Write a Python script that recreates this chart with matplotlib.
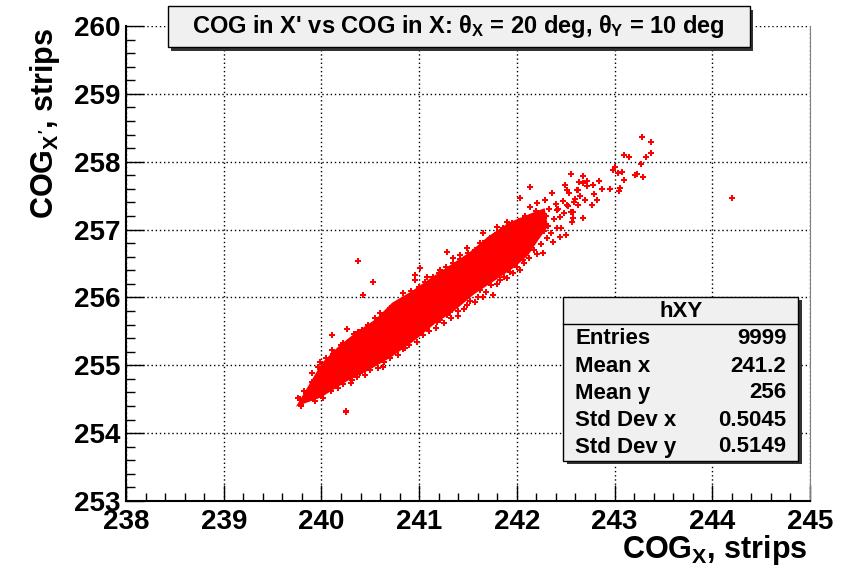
import matplotlib
matplotlib.use("Agg")
import matplotlib.pyplot as plt
from matplotlib.patches import Rectangle
from matplotlib.ticker import MultipleLocator

plt.rcParams['font.family'] = ['Liberation Sans', 'DejaVu Sans']
plt.rcParams['font.weight'] = 'bold'
plt.rcParams['mathtext.fontset'] = 'custom'
plt.rcParams['mathtext.rm'] = 'Liberation Sans:bold'
plt.rcParams['mathtext.it'] = 'Liberation Sans:bold'
plt.rcParams['mathtext.bf'] = 'Liberation Sans:bold'

# dense core outline (lower edge left->right, then upper edge right->left)
core_x = [239.78, 239.985, 240.259, 240.463, 240.702, 240.940, 241.145, 241.350,
          241.554, 241.759, 241.964, 242.101, 242.203, 242.30,
          242.271, 242.135, 241.930, 241.725, 241.521, 241.316, 241.111,
          240.940, 240.736, 240.566, 240.361, 240.190, 240.019]
core_y = [254.44, 254.547, 254.792, 254.939, 255.137, 255.381, 255.627, 255.823,
          256.069, 256.265, 256.463, 256.634, 256.855, 257.05,
          257.280, 257.206, 257.082, 256.886, 256.640, 256.444, 256.248,
          256.076, 255.903, 255.659, 255.461, 255.265, 255.019]

# individual entries visible outside / on the edge of the dense core
pts_x = [240.378, 240.525, 240.429, 240.105, 240.259, 239.985, 240.248, 239.788,
         239.764, 239.822, 239.900, 239.952, 240.088, 240.310, 240.855, 240.958,
         240.958, 241.009, 241.282, 241.418, 241.657, 241.759, 241.896, 242.066,
         242.203, 242.271, 242.135, 242.357, 242.493, 242.613, 242.510, 242.408,
         242.306, 242.373, 241.401, 241.180, 241.316, 241.487, 241.623, 241.828,
         242.032, 242.203, 242.288, 242.442, 242.562, 242.578,
         243.281, 243.376, 243.376, 243.319, 243.151, 243.094, 243.271, 243.008,
         242.987, 243.032, 243.079, 243.097, 243.052, 243.042, 242.957, 242.875,
         242.551, 242.677, 242.674, 242.640, 242.715, 242.715, 242.783, 242.844,
         242.817, 242.786, 242.766, 242.701, 242.646, 242.595, 242.629, 242.490,
         242.510, 242.537, 242.629, 242.551, 242.578, 242.677, 242.500, 242.408,
         242.373, 242.442, 243.209, 243.233, 243.294, 244.202,
         239.791, 239.776, 239.834, 239.824, 239.909, 239.970, 240.252,
         240.395, 240.566, 240.633, 240.753, 240.873, 241.077, 241.214, 241.282,
         241.572, 241.657, 241.964, 242.032,
         240.105, 240.224, 240.378, 240.600, 240.702, 240.838, 241.077, 241.214,
         241.350, 241.487, 241.623, 241.794, 241.896, 242.135,
         # lower edge
         239.85, 239.93, 240.02, 240.10, 240.17, 240.22, 240.30, 240.36, 240.45,
         240.50, 240.58, 240.64, 240.70, 240.78, 240.83, 240.90, 240.98, 241.04,
         241.10, 241.17, 241.25, 241.33, 241.40, 241.46, 241.52, 241.60, 241.68,
         241.74, 241.80, 241.87, 241.93, 242.00, 242.07, 242.12, 242.18, 242.25,
         # upper edge
         239.90, 239.96, 240.05, 240.12, 240.20, 240.27, 240.33, 240.42, 240.48,
         240.55, 240.63, 240.70, 240.78, 240.86, 240.92, 241.00, 241.06, 241.14,
         241.20, 241.27, 241.35, 241.42, 241.50, 241.57, 241.65, 241.72, 241.80,
         241.86, 241.95, 242.02, 242.08, 242.20, 242.33, 242.40, 242.47,
         # upper-right tail
         242.25, 242.32, 242.38, 242.45, 242.48, 242.35, 242.28, 242.42, 242.52,
         242.58, 242.30, 242.22]
pts_y = [256.537, 256.232, 256.036, 255.446, 255.530, 255.053, 254.326, 254.400,
         254.513, 254.625, 254.758, 254.684, 254.684, 254.783, 255.250, 256.330,
         256.257, 256.429, 256.674, 256.625, 256.945, 256.036, 256.282, 256.551,
         256.640, 256.650, 257.623, 257.535, 257.657, 257.583, 257.362, 257.288,
         256.871, 256.821, 255.726, 255.642, 255.790, 255.888, 256.109, 256.257,
         257.461, 257.387, 257.436, 257.190, 257.116, 257.263,
         258.360, 258.290, 258.124, 258.074, 258.074, 258.103, 257.971, 257.927,
         257.878, 257.829, 257.848, 257.730, 257.612, 257.573, 257.602, 257.602,
         257.819, 257.794, 257.691, 257.701, 257.720, 257.642, 257.652, 257.711,
         257.436, 257.524, 257.362, 257.436, 257.495, 257.446, 257.583, 257.657,
         257.583, 257.534, 257.362, 257.263, 257.166, 257.166, 256.920, 257.018,
         256.821, 256.895, 257.800, 257.819, 257.779, 257.470,
         254.410, 254.508, 254.514, 254.625, 254.547, 254.758, 254.316,
         254.882, 255.078, 254.979, 255.250, 255.373, 255.545, 255.667, 255.741,
         255.937, 256.011, 256.355, 256.404,
         255.225, 255.324, 255.495, 255.766, 255.815, 256.061, 256.305, 256.404,
         256.576, 256.724, 256.797, 257.042, 257.116, 257.337,
         254.50, 254.47, 254.52, 254.62, 254.66, 254.72, 254.74, 254.83, 254.86,
         254.93, 254.96, 255.05, 255.10, 255.15, 255.24, 255.30, 255.34, 255.45,
         255.50, 255.55, 255.63, 255.70, 255.80, 255.83, 255.95, 256.00, 256.08,
         256.18, 256.20, 256.30, 256.38, 256.45, 256.50, 256.58, 256.70, 256.78,
         254.88, 254.98, 255.10, 255.16, 255.30, 255.35, 255.46, 255.52, 255.60,
         255.70, 255.74, 255.84, 255.92, 255.98, 256.10, 256.15, 256.22, 256.30,
         256.36, 256.45, 256.50, 256.57, 256.66, 256.70, 256.80, 256.88, 256.95,
         257.02, 257.10, 257.12, 257.20, 257.28, 257.30, 257.38, 257.42,
         257.10, 257.05, 257.15, 257.02, 257.25, 256.95, 256.98, 257.30, 257.35,
         257.40, 257.20, 257.15]

stat_names = ["Entries", "Mean x", "Mean y", "Std Dev x", "Std Dev y"]
stat_values = ["9999", "241.2", "256", "0.5045", "0.5149"]

fig = plt.figure(figsize=(8.52, 5.74), dpi=100)
ax = fig.add_axes([0.1479, 0.1272, 0.8028, 0.8275])

ax.fill(core_x, core_y, color='#ff0000', lw=2.5, ec='#ff0000', zorder=3)
ax.plot(pts_x, pts_y, ls='none', marker='P', ms=4, mew=0, color='#ff0000', zorder=3)

ax.set_xlim(238, 245)
ax.set_ylim(253, 260)
ax.xaxis.set_major_locator(MultipleLocator(1))
ax.xaxis.set_minor_locator(MultipleLocator(0.2))
ax.yaxis.set_major_locator(MultipleLocator(1))
ax.yaxis.set_minor_locator(MultipleLocator(0.2))
ax.tick_params(axis='x', which='major', direction='in', length=11.5, width=1, pad=6,
               labelsize=20, top=False)
ax.tick_params(axis='x', which='minor', direction='in', length=5.8, width=1, top=False)
ax.tick_params(axis='y', which='major', direction='in', length=13, width=1, pad=4,
               labelsize=20, right=False)
ax.tick_params(axis='y', which='minor', direction='in', length=6.5, width=1, right=False)
for lab in ax.get_xticklabels() + ax.get_yticklabels():
    lab.set_fontweight('bold')
ax.grid(True, which='major', ls=(0, (1, 2)), color='black', lw=1)
ax.spines['top'].set_visible(False)
ax.spines['right'].set_color('#808080')
ax.spines['left'].set_linewidth(1.5)
ax.spines['bottom'].set_linewidth(1.5)

fig.text(0.948, 0.042, r"COG$_{X}$, strips", ha='right', va='center', fontsize=22,
         fontweight='bold')
fig.text(0.053, 0.952, r"COG$_{X'}$, strips", ha='center', va='top', rotation=90,
         fontsize=22, fontweight='bold')


def root_box(x0, y0, x1, y1):
    shadow = Rectangle((x0 + 0.004, y0 - 0.006), x1 - x0, y1 - y0, transform=fig.transFigure,
                       fc='#333333', ec='none', zorder=5)
    box = Rectangle((x0, y0), x1 - x0, y1 - y0, transform=fig.transFigure,
                    fc='#f0f0f0', ec='black', lw=1, zorder=6)
    fig.patches.extend([shadow, box])


# title box
root_box(0.197, 0.918, 0.880, 0.989)
fig.text(0.5385, 0.953, r"COG in X' vs COG in X: $\theta_{X}$ = 20 deg, $\theta_{Y}$ = 10 deg",
         ha='center', va='center', fontsize=17, fontweight='bold', zorder=7)

# stats box
root_box(0.661, 0.197, 0.937, 0.483)
fig.add_artist(plt.Line2D([0.661, 0.937], [0.4355, 0.4355], transform=fig.transFigure,
                          color='black', lw=1, zorder=7))
fig.text(0.799, 0.457, "hXY", ha='center', va='center', fontsize=16, fontweight='bold', zorder=7)
for i, (name, val) in enumerate(zip(stat_names, stat_values)):
    yy = 1 - (339 + 27 * i) / 574
    fig.text(0.675, yy, name, ha='left', va='center', fontsize=16, fontweight='bold', zorder=7)
    fig.text(0.923, yy, val, ha='right', va='center', fontsize=16, fontweight='bold', zorder=7)

fig.savefig("out.png", dpi=100)
